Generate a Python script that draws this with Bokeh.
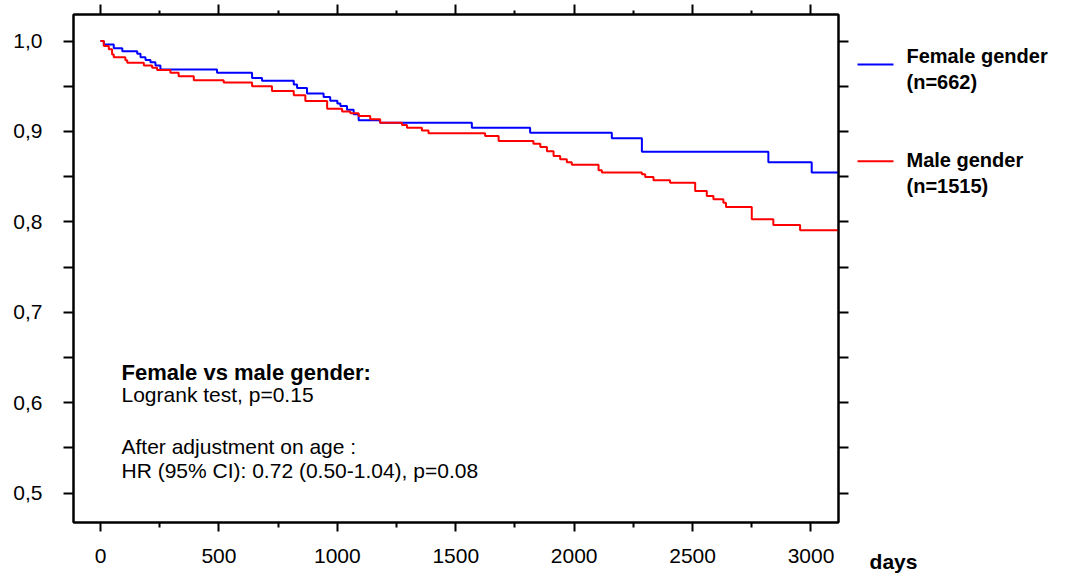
from bokeh.plotting import figure
from bokeh.layouts import row
from bokeh.models import Range1d, FixedTicker, LinearAxis, CustomJSTickFormatter
from bokeh.core.properties import value
from bokeh.embed import file_html
from bokeh.resources import INLINE

# ---------------- data ----------------
female_days = [0, 14, 56, 92, 155, 169, 190, 211, 232, 253, 492, 640, 682, 816, 830, 872,
               942, 970, 1000, 1013, 1041, 1069, 1090, 1180, 1568, 1814, 2159, 2286, 2820, 3003]
female_surv = [1.000, 0.996, 0.992, 0.9887, 0.9858, 0.982, 0.979, 0.9766, 0.973, 0.9685, 0.965,
               0.959, 0.956, 0.952, 0.948, 0.942, 0.938, 0.934, 0.931, 0.928, 0.924, 0.919,
               0.9123, 0.9097, 0.904, 0.8986, 0.8924, 0.8776, 0.866, 0.8544]

male_days = [0, 14, 35, 49, 56, 105, 113, 183, 218, 239, 295, 330, 394, 520, 640, 724, 816,
             865, 957, 1020, 1055, 1090, 1139, 1181, 1273, 1294, 1357, 1385, 1624, 1681, 1828,
             1857, 1885, 1913, 1941, 1969, 1990, 2103, 2117, 2286, 2300, 2335, 2405, 2511,
             2560, 2588, 2630, 2641, 2750, 2841, 2954]
male_surv = [1.000, 0.9945, 0.991, 0.985, 0.982, 0.9786, 0.976, 0.973, 0.9705, 0.968, 0.965,
             0.961, 0.9565, 0.954, 0.950, 0.9447, 0.940, 0.9336, 0.925, 0.922, 0.920, 0.917,
             0.9134, 0.9097, 0.907, 0.904, 0.901, 0.898, 0.895, 0.8894, 0.8864, 0.8827, 0.878,
             0.8728, 0.8691, 0.866, 0.863, 0.857, 0.8544, 0.8525, 0.8496, 0.846, 0.8433, 0.834,
             0.8285, 0.825, 0.8212, 0.8164, 0.8027, 0.7965, 0.7906]

follow_up_end = 3120

x_ticks = [0, 500, 1000, 1500, 2000, 2500, 3000]
x_tick_labels = ["0", "500", "1000", "1500", "2000", "2500", "3000"]
x_minor_ticks = [250, 750, 1250, 1750, 2250, 2750]
y_ticks = [0.5, 0.6, 0.7, 0.8, 0.9, 1.0]
y_tick_labels = ["0,5", "0,6", "0,7", "0,8", "0,9", "1,0"]
y_minor_ticks = [0.55, 0.65, 0.75, 0.85, 0.95]

series_names = ["Female gender", "Male gender"]
series_counts = ["(n=662)", "(n=1515)"]
series_colors = ["#0000FF", "#FF0000"]

stats_title = "Female vs male gender:"
stats_lines = ["Logrank test, p=0.15", "After adjustment on age :",
               "HR (95% CI): 0.72 (0.50-1.04), p=0.08"]
x_unit = "days"

# ---------------- layout helpers (image pixel -> data) ----------------
PX_PER_DAY = 0.23683
def day_at(px):
    return (px - 100) / PX_PER_DAY

def surv_at(py):
    return 1.0 - (py - 40.5) / 904.0

FONT = "Liberation Sans"
MAIN_W, H = 850, 576
FRAME_TOP, FRAME_BOTTOM = 14, 522

p = figure(width=MAIN_W, height=H, output_backend="svg", toolbar_location=None, title=None,
           x_range=Range1d(day_at(73), day_at(838)),
           y_range=Range1d(surv_at(FRAME_BOTTOM), surv_at(FRAME_TOP)),
           min_border_left=73, min_border_right=MAIN_W - 838, min_border_top=FRAME_TOP,
           min_border_bottom=H - FRAME_BOTTOM,
           background_fill_color="white", border_fill_color="white")
p.xgrid.visible = False
p.ygrid.visible = False
p.outline_line_color = "black"
p.outline_line_width = 2

fmt_code = """
const i = vals.findIndex(v => Math.abs(v - tick) < 1e-6);
return i >= 0 ? labels[i] : "";
"""

def style_axis(ax, tick_out, minor_out, font_size, standoff):
    ax.axis_line_color = "black"
    ax.axis_line_width = 2
    ax.major_tick_line_color = "black"
    ax.major_tick_line_width = 2
    ax.minor_tick_line_color = "black"
    ax.minor_tick_line_width = 2
    ax.major_tick_in = 0
    ax.minor_tick_in = 0
    ax.major_tick_out = tick_out
    ax.minor_tick_out = minor_out
    ax.major_label_text_font = FONT
    ax.major_label_text_font_size = font_size
    ax.major_label_text_color = "black"
    ax.major_label_standoff = standoff

xb = p.xaxis[0]
xb.ticker = FixedTicker(ticks=x_ticks, minor_ticks=x_minor_ticks)
xb.formatter = CustomJSTickFormatter(args=dict(vals=x_ticks, labels=x_tick_labels), code=fmt_code)
style_axis(xb, 9, 5, "21px", 17)

yl = p.yaxis[0]
yl.ticker = FixedTicker(ticks=y_ticks, minor_ticks=y_minor_ticks)
yl.formatter = CustomJSTickFormatter(args=dict(vals=y_ticks, labels=y_tick_labels), code=fmt_code)
style_axis(yl, 10, 10, "21px", 21)

# top axis: ticks only (major + short minor), empty labels
xt = LinearAxis(ticker=FixedTicker(ticks=x_ticks, minor_ticks=x_minor_ticks),
                formatter=CustomJSTickFormatter(code='return "";'))
style_axis(xt, 10, 4, "1px", 0)
p.add_layout(xt, "above")

# right axis: all ticks equal length, no labels
yr = LinearAxis(ticker=FixedTicker(ticks=[], minor_ticks=sorted(y_ticks + y_minor_ticks)))
style_axis(yr, 10, 10, "1px", 0)
p.add_layout(yr, "right")

# ---------------- survival curves ----------------
for days, surv, col in [(female_days, female_surv, series_colors[0]),
                        (male_days, male_surv, series_colors[1])]:
    xs = days + [follow_up_end]
    ys = surv + [surv[-1]]
    p.step(xs, ys, mode="after", line_color=col, line_width=2)

# ---------------- statistics text ----------------
stat_baselines = [372, 394, 446, 470]
texts = [stats_title] + stats_lines
for k, (t, b) in enumerate(zip(texts, stat_baselines)):
    p.text(x=[day_at(121)], y=[surv_at(b)], text=[t], text_font=value(FONT),
           text_font_size="22px" if k == 0 else "21px",
           text_font_style="bold" if k == 0 else "normal",
           text_baseline="alphabetic", text_align="left", text_color="black")

# ---------------- side panel: legend + x unit (pixel coordinates) ----------------
s = figure(width=1069 - MAIN_W, height=H, output_backend="svg", toolbar_location=None,
           title=None, x_range=Range1d(MAIN_W, 1069), y_range=Range1d(FRAME_BOTTOM, FRAME_TOP),
           x_axis_location=None, y_axis_location=None,
           min_border_left=0, min_border_right=0, min_border_top=FRAME_TOP,
           min_border_bottom=H - FRAME_BOTTOM,
           background_fill_color="white", border_fill_color="white")
s.xgrid.visible = False
s.ygrid.visible = False
s.outline_line_color = None

legend_line_y = [64.0, 160.7]
legend_text_y = [55.3, 159.3, 81.3, 185.3]
s.segment(x0=[857, 857], y0=legend_line_y, x1=[893, 893], y1=legend_line_y,
          line_color=series_colors, line_width=2)
s.text(x=[906] * 4, y=legend_text_y, text=series_names + series_counts,
       text_font=value(FONT), text_font_size="20px", text_font_style="bold",
       text_baseline="alphabetic", text_align="left", text_color="black")

# x unit shown as the tick label of an invisible bottom axis under the side panel
unit_axis = LinearAxis(ticker=FixedTicker(ticks=[893], minor_ticks=[]),
                       formatter=CustomJSTickFormatter(args=dict(label=x_unit),
                                                       code="return label;"))
style_axis(unit_axis, 0, 0, "21px", 27)
unit_axis.axis_line_color = None
unit_axis.major_tick_line_color = None
unit_axis.minor_tick_line_color = None
unit_axis.major_label_text_font_style = "bold"
s.add_layout(unit_axis, "below")

layout = row(p, s, spacing=0)
open("out.html", "w").write(file_html(layout, INLINE))
